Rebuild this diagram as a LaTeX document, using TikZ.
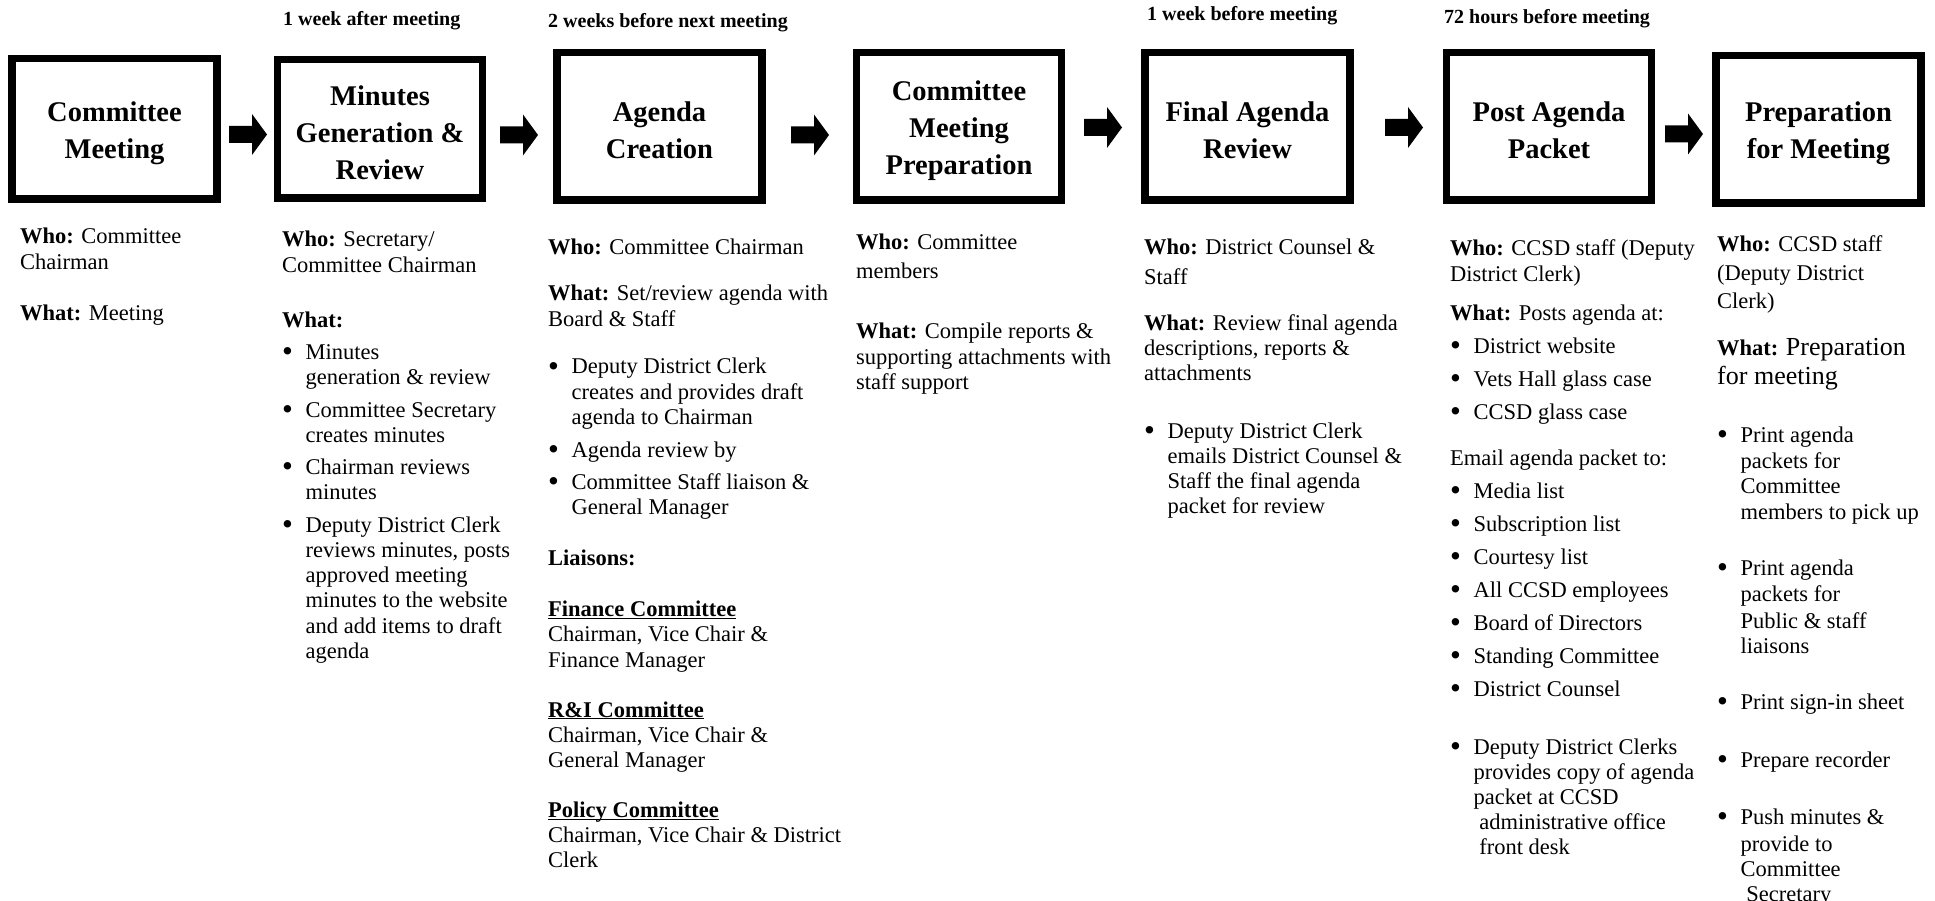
\documentclass[tikz,border=0pt]{standalone}
\usepackage{fontspec}
\setmainfont{Liberation Serif}
\newcommand\bu{\makebox[23.5pt][l]{\raisebox{-2.2pt}{\fontsize{31}{25}\selectfont\textbullet}}}
\newcommand\ind{\hspace*{23.5pt}}
\newcommand\ulb[1]{\underline{\smash{\textbf{#1}}}}
\newcommand\blockarrow[2]{%
  \fill[black] (#1,#2-8.5) -- (#1+23,#2-8.5) -- (#1+23,#2-20.5) -- (#1+38,#2)
    -- (#1+23,#2+20.5) -- (#1+23,#2+8.5) -- (#1,#2+8.5) -- cycle;}
\begin{document}
\begin{tikzpicture}[x=1pt,y=-1pt,
  stage/.style={draw=black, line width=7.5pt, minimum width=205pt,
    minimum height=147.5pt, inner sep=0pt},
  title/.style={align=center, inner sep=0pt,
    font=\fontsize{28.5}{37}\selectfont\bfseries},
  when/.style={anchor=base west, inner sep=0pt,
    font=\fontsize{20}{24}\selectfont\bfseries},
  col/.style={anchor=base west, inner sep=0pt,
    font=\fontsize{22.5}{25.2}\selectfont}]
\fill[white] (0,0) rectangle (1935,901);
\useasboundingbox (0,0) rectangle (1935,901);

% stage boxes
\node[stage, minimum height=140.5pt] (b1) at (114.5,129) {};
\node[stage, minimum height=138.5pt] (b2) at (380,129) {};
\node[stage] (b3) at (659.5,126.5) {};
\node[stage] (b4) at (959,126.5) {};
\node[stage] (b5) at (1247.5,126.5) {};
\node[stage] (b6) at (1549,126.5) {};
\node[stage] (b7) at (1818.5,129.5) {};

% stage titles
\node[title] (b1t) at ([yshift=-4pt]b1.center) {Committee\\Meeting};
\node[title] (b2t) at ([yshift=-4pt]b2.center) {Minutes\\Generation \&\\Review};
\node[title] (b3t) at ([yshift=-4pt]b3.center) {Agenda\\Creation};
\node[title] (b4t) at ([yshift=-4pt]b4.center) {Committee\\Meeting\\Preparation};
\node[title] (b5t) at ([yshift=-4pt]b5.center) {Final Agenda\\Review};
\node[title] (b6t) at ([yshift=-4pt]b6.center) {Post Agenda\\Packet};
\node[title] (b7t) at ([yshift=-4pt]b7.center) {Preparation\\for Meeting};

% block arrows between boxes
\blockarrow{229}{134.5}
\blockarrow{500}{135}
\blockarrow{791}{135}
\blockarrow{1084}{127.5}
\blockarrow{1385}{127.5}
\blockarrow{1665}{134}

% timing labels
\node[when] (t2) at (283,26) {1 week after meeting};
\node[when] (t3) at (548,28) {2 weeks before next meeting};
\node[when] (t5) at (1147,21) {1 week before meeting};
\node[when] (t6) at (1444,24) {72 hours before meeting};

% column 1
\node[col] (c1) at (20,244) {\begin{tabular}[t]{@{}l@{}}
\textbf{Who:} Committee\\
Chairman\\[26pt]
\textbf{What:} Meeting
\end{tabular}};

% column 2
\node[col] (c2) at (282,247) {\begin{tabular}[t]{@{}l@{}}
\textbf{Who:} Secretary/\\
Committee Chairman\\[29.8pt]
\textbf{What:}\\[6.8pt]
\bu Minutes\\
\ind generation \& review\\[7.8pt]
\bu Committee Secretary\\
\ind creates minutes\\[6.6pt]
\bu Chairman reviews\\
\ind minutes\\[7.6pt]
\bu Deputy District Clerk\\
\ind reviews minutes, posts\\
\ind approved meeting\\
\ind minutes to the website\\
\ind and add items to draft\\
\ind agenda
\end{tabular}};

% column 3
\node[col] (c3) at (548,255) {\begin{tabular}[t]{@{}l@{}}
\textbf{Who:} Committee Chairman\\[20.8pt]
\textbf{What:} Set/review agenda with\\
Board \& Staff\\[22.6pt]
\bu Deputy District Clerk\\
\ind creates and provides draft\\
\ind agenda to Chairman\\[7.8pt]
\bu Agenda review by\\[6.8pt]
\bu Committee Staff liaison \&\\
\ind General Manager\\[25.8pt]
\textbf{Liaisons:}\\[25.8pt]
\ulb{Finance Committee}\\
Chairman, Vice Chair \&\\
Finance Manager\\[24.8pt]
\ulb{R\&I Committee}\\
Chairman, Vice Chair \&\\
General Manager\\[24.8pt]
\ulb{Policy Committee}\\
Chairman, Vice Chair \& District\\
Clerk
\end{tabular}};

% column 4
\node[col] (c4) at (856,250) {\begin{tabular}[t]{@{}l@{}}
\textbf{Who:} Committee\\[3.8pt]
members\\[34.8pt]
\textbf{What:} Compile reports \&\\
supporting attachments with\\
staff support
\end{tabular}};

% column 5
\node[col] (c5) at (1144,255) {\begin{tabular}[t]{@{}l@{}}
\textbf{Who:} District Counsel \&\\[3.8pt]
Staff\\[20.8pt]
\textbf{What:} Review final agenda\\
descriptions, reports \&\\
attachments\\[32.8pt]
\bu Deputy District Clerk\\
\ind emails District Counsel \&\\
\ind Staff the final agenda\\
\ind packet for review
\end{tabular}};

% column 6
\node[col] (c6) at (1450,256) {\begin{tabular}[t]{@{}l@{}}
\textbf{Who:} CCSD staff (Deputy\\
District Clerk)\\[13.8pt]
\textbf{What:} Posts agenda at:\\[7.8pt]
\bu District website\\[7.8pt]
\bu Vets Hall glass case\\[7.8pt]
\bu CCSD glass case\\[20.8pt]
Email agenda packet to:\\[7.8pt]
\bu Media list\\[7.8pt]
\bu Subscription list\\[7.8pt]
\bu Courtesy list\\[7.8pt]
\bu All CCSD employees\\[7.8pt]
\bu Board of Directors\\[7.8pt]
\bu Standing Committee\\[7.8pt]
\bu District Counsel\\[32.8pt]
\bu Deputy District Clerks\\
\ind provides copy of agenda\\
\ind packet at CCSD\\
\ind\ administrative office\\
\ind\ front desk
\end{tabular}};

% column 7
\node[col] (c7) at (1717,252) {\begin{tabular}[t]{@{}l@{}}
\textbf{Who:} CCSD staff\\[3.3pt]
(Deputy District\\[3.3pt]
Clerk)\\[21.3pt]
\textbf{What:} {\fontsize{26}{29}\selectfont Preparation}\\[3.3pt]
{\fontsize{26}{29}\selectfont for meeting}\\[32.4pt]
\bu Print agenda\\[1.2pt]
\ind packets for\\
\ind Committee\\
\ind members to pick up\\[30.8pt]
\bu Print agenda\\[0.8pt]
\ind packets for\\[1.8pt]
\ind Public \& staff\\
\ind liaisons\\[30.8pt]
\bu Print sign-in sheet\\[32.8pt]
\bu Prepare recorder\\[31.8pt]
\bu Push minutes \&\\[1.8pt]
\ind provide to\\
\ind Committee\\
\ind\ Secretary
\end{tabular}};
\end{tikzpicture}
\end{document}
